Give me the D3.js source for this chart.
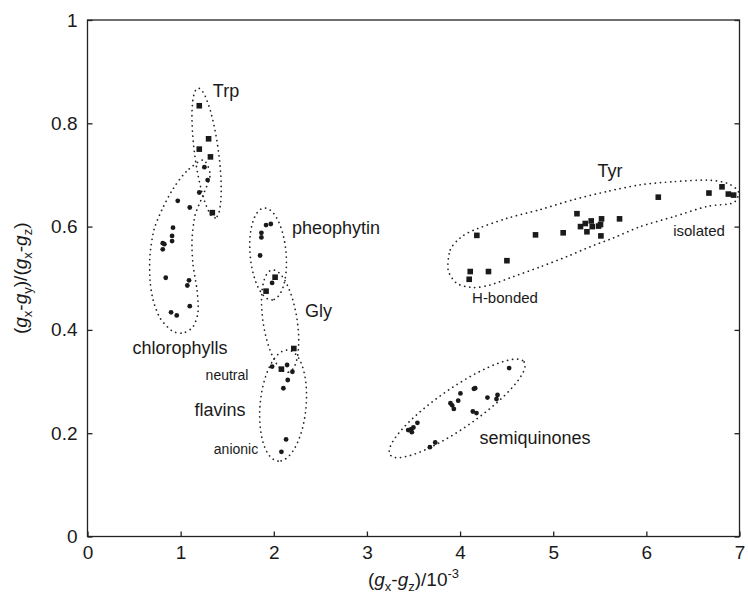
<!DOCTYPE html>
<html>
<head>
<meta charset="utf-8">
<title>g-tensor anisotropy of radicals</title>
<script src="https://cdnjs.cloudflare.com/ajax/libs/d3/7.8.5/d3.min.js"></script>
<style>
  body { margin: 0; background: #fff; }
  text { font-family: "Liberation Sans", Arial, sans-serif; fill: #1a1a1a; }
</style>
</head>
<body>
<div id="chart"></div>
<script>
// values: [gx-gz (1e-3), (gx-gy)/(gx-gz)]
var trpSquares = [[1.20,0.834],[1.30,0.770],[1.20,0.750],[1.32,0.735],[1.34,0.627]];
var glySquares = [[2.014,0.502],[1.917,0.475],[2.215,0.364],[2.082,0.324]];
var tyrSquares = [
  [4.180,0.583],[4.810,0.584],[5.107,0.588],[5.255,0.625],[5.293,0.600],[5.344,0.606],
  [5.362,0.590],[5.408,0.611],[5.419,0.600],[5.487,0.601],[5.519,0.615],[5.508,0.604],
  [5.512,0.582],[5.712,0.615],[6.128,0.657],[6.672,0.665],[6.812,0.677],[6.880,0.663],
  [6.937,0.661],[4.503,0.534],[4.109,0.513],[4.305,0.513],[4.098,0.498]
];
var chlCircles = [
  [1.255,0.715],[1.29,0.690],[1.20,0.666],[0.969,0.650],[1.098,0.637],[0.918,0.598],
  [0.908,0.582],[0.908,0.572],[0.808,0.568],[0.825,0.566],[0.808,0.556],[0.840,0.501],
  [1.09,0.496],[1.072,0.486],[1.098,0.446],[0.897,0.434],[0.958,0.428]
];
var pheoCircles = [[1.917,0.603],[1.968,0.605],[1.867,0.588],[1.867,0.579],[1.853,0.544],[1.982,0.491]];
var flavinCircles = [[1.982,0.329],[2.143,0.332],[2.20,0.319],[2.15,0.303],[2.103,0.287],[2.132,0.188],[2.082,0.164]];
var sqCircles = [
  [4.527,0.326],[4.162,0.287],[4.148,0.286],[4.004,0.277],[4.294,0.269],[4.402,0.274],
  [4.391,0.266],[3.980,0.263],[3.897,0.258],[3.915,0.254],[3.933,0.247],[4.137,0.242],
  [4.176,0.239],[3.542,0.220],[3.499,0.211],[3.475,0.208],[3.443,0.206],[3.482,0.202],
  [3.733,0.182],[3.676,0.173]
];
var xTicks = [0,1,2,3,4,5,6,7];
var yTicks = [0,0.2,0.4,0.6,0.8,1];

// group outlines: ellipses by their two ends (data) and half-width (px)
var ellipses = [
  { a: [1.187,0.868], b: [1.37,0.617], w: 12 },   // Trp
  { a: [1.896,0.636], b: [1.982,0.458], w: 18 },  // pheophytin
  { a: [1.982,0.516], b: [2.154,0.318], w: 17 },  // Gly
  { a: [2.154,0.361], b: [2.046,0.146], w: 23 },  // flavins
  { a: [3.249,0.158], b: [4.688,0.338], w: 20 }   // semiquinones
];
var chlOutline = [
  [1.241,0.729],[1.058,0.706],[0.918,0.673],[0.800,0.633],[0.714,0.594],[0.671,0.545],
  [0.671,0.497],[0.704,0.458],[0.779,0.423],[0.908,0.398],[1.026,0.394],[1.133,0.406],
  [1.187,0.435],[1.176,0.477],[1.133,0.526],[1.122,0.574],[1.155,0.622],[1.241,0.661],
  [1.316,0.700]
];
var tyrOutline = [
  [3.872,0.516],[3.894,0.555],[4.001,0.578],[4.144,0.593],[4.503,0.616],[4.860,0.633],
  [5.215,0.652],[5.577,0.668],[5.935,0.681],[6.289,0.687],[6.651,0.690],[6.866,0.684],
  [6.987,0.668],[6.933,0.646],[6.651,0.639],[6.289,0.619],[5.935,0.600],[5.645,0.578],
  [5.397,0.561],[5.147,0.542],[4.860,0.522],[4.570,0.503],[4.323,0.487],[4.141,0.482],
  [3.966,0.490]
];

var width = 748, height = 597;
var x = d3.scaleLinear().domain([0, 7]).range([87.5, 739.5]);
var y = d3.scaleLinear().domain([0, 1]).range([536.5, 20]);

var svg = d3.select('#chart').append('svg')
  .attr('width', width).attr('height', height);

// frame
svg.append('rect')
  .attr('x', x(0)).attr('y', y(1))
  .attr('width', x(7) - x(0)).attr('height', y(0) - y(1))
  .attr('fill', 'none').attr('stroke', '#222').attr('stroke-width', 1.3);

var xAxis = svg.append('g').attr('transform', 'translate(0,' + y(0) + ')')
  .call(d3.axisBottom(x).tickValues(xTicks).tickSize(-5).tickPadding(9).tickFormat(String));
var yAxis = svg.append('g').attr('transform', 'translate(' + x(0) + ',0)')
  .call(d3.axisLeft(y).tickValues(yTicks).tickSize(-5).tickPadding(10).tickFormat(String));
var yAxisR = svg.append('g').attr('transform', 'translate(' + x(7) + ',0)')
  .call(d3.axisRight(y).tickValues(yTicks).tickSize(-5).tickFormat(''));
[xAxis, yAxis, yAxisR].forEach(function(g) {
  g.select('.domain').remove();
  g.selectAll('line').attr('stroke', '#222').attr('stroke-width', 1.3);
  g.selectAll('text').attr('font-size', 19).attr('fill', '#1a1a1a')
    .style('font-family', '"Liberation Sans", Arial, sans-serif');
});

// dotted outlines
function ellipsePoints(e) {
  var ax = x(e.a[0]), ay = y(e.a[1]), bx = x(e.b[0]), by = y(e.b[1]);
  var cx = (ax + bx) / 2, cy = (ay + by) / 2;
  var r = Math.hypot(bx - ax, by - ay) / 2;
  var t = Math.atan2(by - ay, bx - ax);
  return d3.range(0, 2 * Math.PI, Math.PI / 40).map(function(s) {
    var u = r * Math.cos(s), v = e.w * Math.sin(s);
    return [cx + u * Math.cos(t) - v * Math.sin(t), cy + u * Math.sin(t) + v * Math.cos(t)];
  });
}
var dotted = function(sel) {
  sel.attr('fill', 'none').attr('stroke', '#222').attr('stroke-width', 1.7)
    .attr('stroke-linecap', 'round').attr('stroke-dasharray', '0.1,5');
};
var closedPx = d3.line().curve(d3.curveLinearClosed);
ellipses.forEach(function(e) {
  svg.append('path').attr('d', closedPx(ellipsePoints(e))).call(dotted);
});
var closedData = d3.line().x(function(d) { return x(d[0]); }).y(function(d) { return y(d[1]); })
  .curve(d3.curveCardinalClosed.tension(0.2));
[chlOutline, tyrOutline].forEach(function(o) {
  svg.append('path').attr('d', closedData(o)).call(dotted);
});

// points
var circles = chlCircles.concat(pheoCircles, flavinCircles, sqCircles);
svg.append('g').selectAll('circle').data(circles).enter().append('circle')
  .attr('cx', function(d) { return x(d[0]); })
  .attr('cy', function(d) { return y(d[1]); })
  .attr('r', 2.4).attr('fill', '#1a1a1a');
var sq = 5.6;
var squares = trpSquares.concat(glySquares, tyrSquares);
svg.append('g').selectAll('rect').data(squares).enter().append('rect')
  .attr('x', function(d) { return x(d[0]) - sq / 2; })
  .attr('y', function(d) { return y(d[1]) - sq / 2; })
  .attr('width', sq).attr('height', sq).attr('fill', '#1a1a1a');

// group labels
var labels = [
  { t: 'Trp', px: 226, py: 97, s: 18, a: 'middle' },
  { t: 'chlorophylls', px: 180, py: 354, s: 18, a: 'middle' },
  { t: 'pheophytin', px: 292, py: 234, s: 18, a: 'start' },
  { t: 'Gly', px: 305, py: 317, s: 18, a: 'start' },
  { t: 'neutral', px: 227, py: 380, s: 14, a: 'middle' },
  { t: 'flavins', px: 220, py: 416, s: 18, a: 'middle' },
  { t: 'anionic', px: 236, py: 454, s: 14, a: 'middle' },
  { t: 'Tyr', px: 610, py: 177, s: 18, a: 'middle' },
  { t: 'isolated', px: 699, py: 236, s: 15, a: 'middle' },
  { t: 'H-bonded', px: 505, py: 303, s: 15, a: 'middle' },
  { t: 'semiquinones', px: 535, py: 444, s: 18, a: 'middle' }
];
svg.append('g').selectAll('text').data(labels).enter().append('text')
  .attr('x', function(d) { return d.px; }).attr('y', function(d) { return d.py; })
  .attr('font-size', function(d) { return d.s; })
  .attr('text-anchor', function(d) { return d.a; })
  .text(function(d) { return d.t; });

// axis titles
var xt = svg.append('text').attr('x', (x(0) + x(7)) / 2).attr('y', 586)
  .attr('text-anchor', 'middle').attr('font-size', 19);
xt.append('tspan').text('(');
xt.append('tspan').attr('font-style', 'italic').text('g');
xt.append('tspan').attr('font-size', 13).attr('dy', 5).text('x');
xt.append('tspan').attr('dy', -5).text('-');
xt.append('tspan').attr('font-style', 'italic').text('g');
xt.append('tspan').attr('font-size', 13).attr('dy', 5).text('z');
xt.append('tspan').attr('dy', -5).text(')/10');
xt.append('tspan').attr('font-size', 13).attr('dy', -8).text('-3');

var yt = svg.append('text')
  .attr('transform', 'translate(27,' + ((y(0) + y(1)) / 2) + ') rotate(-90)')
  .attr('text-anchor', 'middle').attr('font-size', 19);
yt.append('tspan').text('(');
yt.append('tspan').attr('font-style', 'italic').text('g');
yt.append('tspan').attr('font-size', 13).attr('dy', 5).text('x');
yt.append('tspan').attr('dy', -5).text('-');
yt.append('tspan').attr('font-style', 'italic').text('g');
yt.append('tspan').attr('font-size', 13).attr('dy', 5).text('y');
yt.append('tspan').attr('dy', -5).text(')/(');
yt.append('tspan').attr('font-style', 'italic').text('g');
yt.append('tspan').attr('font-size', 13).attr('dy', 5).text('x');
yt.append('tspan').attr('dy', -5).text('-');
yt.append('tspan').attr('font-style', 'italic').text('g');
yt.append('tspan').attr('font-size', 13).attr('dy', 5).text('z');
yt.append('tspan').attr('dy', -5).text(')');
</script>
</body>
</html>
